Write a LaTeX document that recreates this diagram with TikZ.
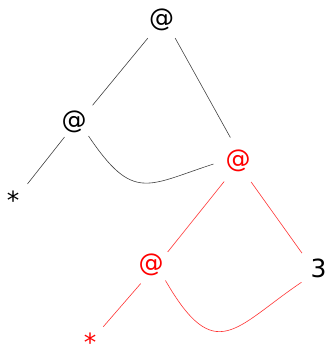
\documentclass[tikz,border=0pt]{standalone}
\usepackage{fontspec}
\setmainfont{DejaVu Sans}
\begin{document}
\begin{tikzpicture}[x=1pt,y=1pt,
  term/.style={circle,inner sep=0pt,font=\fontsize{25}{30}\selectfont},
  hot/.style={red},
  link/.style={line width=0.6pt,black!75},
  hotlink/.style={line width=0.6pt,red!80}]
\useasboundingbox (0,0) rectangle (326,350);
% application nodes and leaves
\node[term,minimum size=45pt] (T) at (161.5,330) {@};
\node[term,minimum size=40pt] (L) at (74,228) {@};
\node[term,minimum size=49pt,hot] (R) at (238,189) {@};
\node[term,minimum size=42pt,hot] (M) at (151,85) {@};
\node[term,minimum size=44pt] (N) at (318.5,82) {3};
\node[term,minimum size=43pt] (S1) at (13,150) {*};
\node[term,minimum size=40pt,hot] (S2) at (90,8) {*};
% black part of the graph
\draw[link,shorten >=4.8pt] (T.-127) -- (L.40);
\draw[link] (T.-53) -- (R.108);
\draw[link,shorten <=-2.4pt] (L.-123) -- (S1.48);
\draw[link] (L.-44) .. controls +(-56:80) and +(198:70) .. (R.187);
% red part of the graph
\draw[hotlink] (R.-124) -- (M.38);
\draw[hotlink] (R.-58) -- (N.138);
\draw[hotlink] (M.-119) -- (S2.49);
\draw[hotlink] (M.-47) .. controls +(-60:100) and +(214:80) .. (N.220);
\end{tikzpicture}
\end{document}
